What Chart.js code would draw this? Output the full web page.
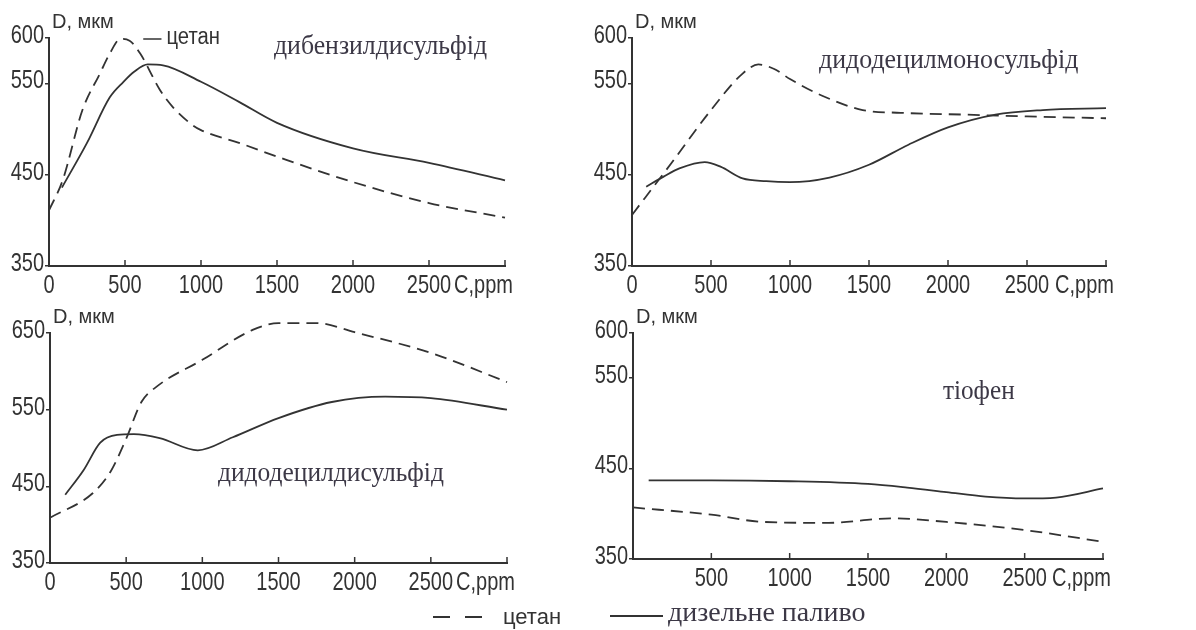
<!DOCTYPE html>
<html>
<head>
<meta charset="utf-8">
<script src="https://cdn.jsdelivr.net/npm/chart.js@4.4.1/dist/chart.umd.min.js"></script>
<style>
  body { margin: 0; background: #fff; width: 1196px; height: 630px; position: relative; overflow: hidden; }
  canvas { position: absolute; }
  .ttl { position: absolute; font-family: "Liberation Serif", "Times New Roman", serif; font-size: 28px; line-height: 1; color: #3c3846; white-space: nowrap; transform-origin: 0 0; }
  .lg { position: absolute; line-height: 1; white-space: nowrap; }
</style>
</head>
<body>
<canvas id="c1" width="580" height="300" style="left:0;top:0"></canvas>
<canvas id="c2" width="616" height="300" style="left:580px;top:0"></canvas>
<canvas id="c3" width="580" height="300" style="left:0;top:300px"></canvas>
<canvas id="c4" width="616" height="300" style="left:580px;top:300px"></canvas>

<div class="ttl" style="left:274px;top:31px;transform:scaleX(0.92)">дибензилдисульфід</div>
<div class="ttl" style="left:819px;top:45px;transform:scaleX(0.925)">дидодецилмоносульфід</div>
<div class="ttl" style="left:218px;top:458px;transform:scaleX(0.91)">дидодецилдисульфід</div>
<div class="ttl" style="left:943px;top:376px;transform:scaleX(0.9)">тіофен</div>

<svg style="position:absolute;left:0;top:0" width="1196" height="630">
  <line x1="433" y1="617" x2="483" y2="617" stroke="#333" stroke-width="1.8" stroke-dasharray="17 15"/>
  <line x1="610" y1="616" x2="663" y2="616" stroke="#333" stroke-width="1.8"/>
</svg>
<div class="lg" style="left:503px;top:606px;font-family:'Liberation Sans',sans-serif;font-size:22px;color:#333">цетан</div>
<div class="lg" style="left:668px;top:598px;font-family:'Liberation Serif',serif;font-size:28px;color:#3c3846">дизельне паливо</div>

<script>
// дибензилдисульфід
const p1CetaneC = [0, 90, 220, 335, 400, 470, 530, 600, 730, 816, 940, 1000, 1250, 1500, 2000, 2500, 3000];
const p1CetaneD = [411, 444, 521, 561, 583, 599, 597, 583, 543, 524, 505, 499, 485, 470, 442, 419, 403];
const p1DieselC = [85, 250, 400, 490, 560, 650, 750, 1000, 1250, 1500, 2000, 2500, 3000];
const p1DieselD = [436, 485, 535, 552, 563, 571, 570, 552, 530, 507, 479, 463, 444];
// дидодецилмоносульфід
const p2CetaneC = [0, 250, 500, 700, 800, 900, 1000, 1200, 1460, 1700, 2100, 2500, 3000];
const p2CetaneD = [406, 463, 521, 561, 571, 566, 555, 537, 521, 518, 516, 514, 512];
const p2DieselC = [90, 200, 300, 460, 560, 700, 850, 1000, 1250, 1500, 1750, 2000, 2300, 2600, 3000];
const p2DieselD = [437, 448, 457, 464, 459, 446, 443, 442, 447, 461, 483, 502, 516, 521, 523];
// дидодецилдисульфід
const p3CetaneC = [0, 280, 400, 500, 600, 700, 1000, 1330, 1500, 1750, 2000, 2500, 3000];
const p3CetaneD = [409, 441, 470, 512, 560, 580, 615, 654, 663, 663, 651, 624, 586];
const p3DieselC = [100, 220, 330, 440, 550, 720, 970, 1200, 1500, 1850, 2200, 2500, 3000];
const p3DieselD = [439, 471, 507, 517, 518, 513, 497, 514, 539, 560, 567, 565, 550];
// тіофен
const p4CetaneC = [0, 500, 830, 1250, 1650, 2000, 2500, 3000];
const p4CetaneD = [407, 399, 391, 390, 395, 391, 382, 369];
const p4DieselC = [100, 500, 1000, 1500, 1750, 2000, 2250, 2500, 2700, 3000];
const p4DieselD = [437, 437, 436, 433, 429, 424, 419, 417, 418, 428];

const xTickVals = [0, 500, 1000, 1500, 2000, 2500, 3000];
const yTicks600 = [350, 450, 550, 600];
const yTicks650 = [350, 450, 550, 650];

const ink = "#333";
const sans = "'Liberation Sans', Arial, sans-serif";

function pts(cs, ds) {
  return cs.map((c, i) => ({ x: c, y: ds[i] }));
}

//narrow text: the figure's lettering is squeezed sideways
function narrowText(ctx, text, x, y, align, size, sx) {
  ctx.save();
  ctx.translate(x, y);
  ctx.scale(sx, 1);
  ctx.font = size + "px " + sans;
  ctx.textAlign = align;
  ctx.textBaseline = "middle";
  ctx.fillText(text, 0, 0);
  ctx.restore();
}

//tick labels, inward x ticks, axis names and the cetane note
const axisExtras = {
  id: "axisExtras",
  afterDraw(chart, args, opts) {
    const { ctx, chartArea, scales } = chart;
    const x = scales.x;
    const y = scales.y;
    ctx.save();
    ctx.strokeStyle = ink;
    ctx.fillStyle = ink;
    ctx.lineWidth = 1.5;
    x.ticks.forEach(t => {
      const px = x.getPixelForValue(t.value);
      ctx.beginPath();
      ctx.moveTo(px, chartArea.bottom);
      ctx.lineTo(px, chartArea.bottom - 6);
      ctx.stroke();
      if (t.value === 3000 || (opts.noZero && t.value === 0)) return;
      narrowText(ctx, String(t.value), px, chartArea.bottom + 20, "center", 25, 0.8);
    });
    y.ticks.forEach(t => {
      narrowText(ctx, String(t.value), chartArea.left - 5, y.getPixelForValue(t.value) - 2, "right", 25, 0.8);
    });
    narrowText(ctx, "C,ppm", chartArea.right + 8, chartArea.bottom + 20, "right", 25, 0.8);
    narrowText(ctx, "D, мкм", chartArea.left + 3, chartArea.top - 16, "left", 20, 1);
    if (opts.note) {
      const ny = y.getPixelForValue(opts.note.d);
      const x0 = x.getPixelForValue(opts.note.c0);
      const x1 = x.getPixelForValue(opts.note.c1);
      ctx.beginPath();
      ctx.moveTo(x0, ny + 1);
      ctx.lineTo(x1, ny + 1);
      ctx.stroke();
      narrowText(ctx, opts.note.text, x1 + 5, ny, "left", 23, 0.88);
    }
    ctx.restore();
  }
};

function makeChart(id, cetane, diesel, geo, yMax, yTicks, note) {
  return new Chart(document.getElementById(id), {
    type: "line",
    plugins: [axisExtras],
    data: {
      datasets: [
        {
          data: cetane,
          borderColor: ink,
          borderWidth: 1.8,
          borderDash: [12, 7],
          pointRadius: 0,
          cubicInterpolationMode: "monotone",
          clip: false,
        },
        {
          data: diesel,
          borderColor: ink,
          borderWidth: 1.8,
          pointRadius: 0,
          cubicInterpolationMode: "monotone",
          clip: false,
        },
      ],
    },
    options: {
      responsive: false,
      animation: false,
      devicePixelRatio: 1,
      layout: { padding: { top: geo.top, right: geo.right, left: 0, bottom: 0 } },
      plugins: {
        legend: { display: false },
        tooltip: { enabled: false },
        axisExtras: { note: note, noZero: geo.noZero },
      },
      scales: {
        x: {
          type: "linear",
          min: 0,
          max: 3000,
          afterFit: s => { s.height = geo.xh; },
          afterBuildTicks: s => { s.ticks = xTickVals.map(v => ({ value: v })); },
          grid: { display: false },
          border: { display: true, color: ink, width: 2 },
          ticks: { display: false },
        },
        y: {
          min: 350,
          max: yMax,
          afterFit: s => { s.width = geo.yw; },
          afterBuildTicks: s => { s.ticks = yTicks.map(v => ({ value: v })); },
          grid: { drawOnChartArea: false, tickLength: 4, color: ink, lineWidth: 1.5 },
          border: { display: true, color: ink, width: 2 },
          ticks: { display: false },
        },
      },
    },
  });
}

makeChart("c1", pts(p1CetaneC, p1CetaneD), pts(p1DieselC, p1DieselD),
  { top: 38, right: 75, yw: 49, xh: 34 }, 600, yTicks600,
  { c0: 620, c1: 740, d: 600, text: "цетан" });
makeChart("c2", pts(p2CetaneC, p2CetaneD), pts(p2DieselC, p2DieselD),
  { top: 38, right: 90, yw: 52, xh: 34 }, 600, yTicks600, null);
makeChart("c3", pts(p3CetaneC, p3CetaneD), pts(p3DieselC, p3DieselD),
  { top: 33, right: 73, yw: 50, xh: 37 }, 650, yTicks650, null);
makeChart("c4", pts(p4CetaneC, p4CetaneD), pts(p4DieselC, p4DieselD),
  { top: 33, right: 93, yw: 53, xh: 41, noZero: true }, 600, yTicks600, null);
</script>
</body>
</html>
